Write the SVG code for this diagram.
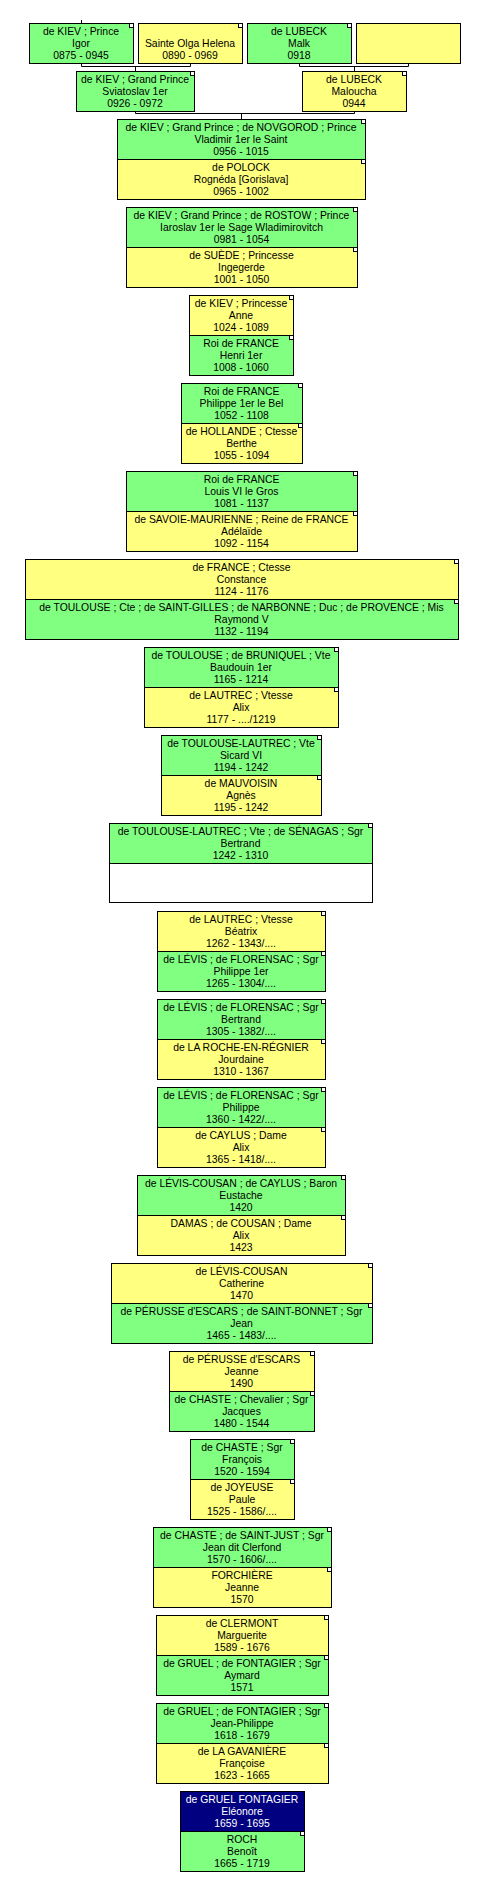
<svg xmlns="http://www.w3.org/2000/svg" width="493" height="1892" viewBox="0 0 493 1892">
<style>
.g{fill:#80ff80;stroke:#000;stroke-width:1}
.y{fill:#ffff80;stroke:#000;stroke-width:1}
.w{fill:#ffffff;stroke:#000;stroke-width:1}
.n{fill:#000080;stroke:#000;stroke-width:1}
.c{fill:#ffffff;stroke:#000;stroke-width:1}
text{font-family:"Liberation Sans",Arial,sans-serif;font-size:10.4px;text-anchor:middle;fill:#000}
.wt{fill:#fff}
.ln{fill:none;stroke:#000;stroke-width:1}
</style>
<rect x="0" y="0" width="493" height="1892" fill="#fff"/>
<g id="connectors">
<path class="ln" d="M81.5 20V23"/>
<path class="ln" d="M81.5 63V66.5H190.5V63M135.5 66.5V71"/>
<path class="ln" d="M299.5 63V66.5H408.5V63M354.5 66.5V71"/>
<path class="ln" d="M135.5 111V113.5H354.5V111M241.5 113.5V119"/>
</g>
<g id="n-igor"><rect class="g" x="29.5" y="23.5" width="104" height="40"/><rect class="c" x="129.5" y="23.5" width="4" height="4"/><text><tspan x="81" y="35">de KIEV ; Prince</tspan><tspan x="81" y="47">Igor</tspan><tspan x="81" y="59">0875 - 0945</tspan></text></g>
<g id="n-olga"><rect class="y" x="138.5" y="23.5" width="104" height="40"/><rect class="c" x="238.5" y="23.5" width="4" height="4"/><text><tspan x="190" y="47">Sainte Olga Helena</tspan><tspan x="190" y="59">0890 - 0969</tspan></text></g>
<g id="n-malk"><rect class="g" x="247.5" y="23.5" width="104" height="40"/><rect class="c" x="347.5" y="23.5" width="4" height="4"/><text><tspan x="299" y="35">de LUBECK</tspan><tspan x="299" y="47">Malk</tspan><tspan x="299" y="59">0918</tspan></text></g>
<g id="n-unknown"><rect class="y" x="356.5" y="23.5" width="104" height="40"/></g>
<g id="n-sviatoslav"><rect class="g" x="76.5" y="71.5" width="118" height="40"/><rect class="c" x="190.5" y="71.5" width="4" height="4"/><text><tspan x="135" y="83">de KIEV ; Grand Prince</tspan><tspan x="135" y="95">Sviatoslav 1er</tspan><tspan x="135" y="107">0926 - 0972</tspan></text></g>
<g id="n-maloucha"><rect class="y" x="302.5" y="71.5" width="104" height="40"/><rect class="c" x="402.5" y="71.5" width="4" height="4"/><text><tspan x="354" y="83">de LUBECK</tspan><tspan x="354" y="95">Maloucha</tspan><tspan x="354" y="107">0944</tspan></text></g>

<g id="n-vladimir"><rect class="g" x="117.5" y="119.5" width="248" height="40"/><rect class="c" x="361.5" y="119.5" width="4" height="4"/><text><tspan x="241" y="131">de KIEV ; Grand Prince ; de NOVGOROD ; Prince</tspan><tspan x="241" y="143">Vladimir 1er le Saint</tspan><tspan x="241" y="155">0956 - 1015</tspan></text></g>
<g id="n-rogneda"><rect class="y" x="117.5" y="159.5" width="248" height="40"/><rect class="c" x="361.5" y="159.5" width="4" height="4"/><text><tspan x="241" y="171">de POLOCK</tspan><tspan x="241" y="183">Rognéda [Gorislava]</tspan><tspan x="241" y="195">0965 - 1002</tspan></text></g>

<g id="n-iaroslav"><rect class="g" x="126.5" y="207.5" width="231" height="40"/><rect class="c" x="353.5" y="207.5" width="4" height="4"/><text><tspan x="241.5" y="219">de KIEV ; Grand Prince ; de ROSTOW ; Prince</tspan><tspan x="241.5" y="231">Iaroslav 1er le Sage Wladimirovitch</tspan><tspan x="241.5" y="243">0981 - 1054</tspan></text></g>
<g id="n-ingegerde"><rect class="y" x="126.5" y="247.5" width="231" height="40"/><rect class="c" x="353.5" y="247.5" width="4" height="4"/><text><tspan x="241.5" y="259">de SUÈDE ; Princesse</tspan><tspan x="241.5" y="271">Ingegerde</tspan><tspan x="241.5" y="283">1001 - 1050</tspan></text></g>

<g id="n-anne"><rect class="y" x="189.5" y="295.5" width="104" height="40"/><rect class="c" x="289.5" y="295.5" width="4" height="4"/><text><tspan x="241" y="307">de KIEV ; Princesse</tspan><tspan x="241" y="319">Anne</tspan><tspan x="241" y="331">1024 - 1089</tspan></text></g>
<g id="n-henri"><rect class="g" x="189.5" y="335.5" width="104" height="40"/><rect class="c" x="289.5" y="335.5" width="4" height="4"/><text><tspan x="241" y="347">Roi de FRANCE</tspan><tspan x="241" y="359">Henri 1er</tspan><tspan x="241" y="371">1008 - 1060</tspan></text></g>

<g id="n-philippe1"><rect class="g" x="181.5" y="383.5" width="121" height="40"/><rect class="c" x="298.5" y="383.5" width="4" height="4"/><text><tspan x="241.5" y="395">Roi de FRANCE</tspan><tspan x="241.5" y="407">Philippe 1er le Bel</tspan><tspan x="241.5" y="419">1052 - 1108</tspan></text></g>
<g id="n-berthe"><rect class="y" x="181.5" y="423.5" width="121" height="40"/><rect class="c" x="298.5" y="423.5" width="4" height="4"/><text><tspan x="241.5" y="435">de HOLLANDE ; Ctesse</tspan><tspan x="241.5" y="447">Berthe</tspan><tspan x="241.5" y="459">1055 - 1094</tspan></text></g>

<g id="n-louis6"><rect class="g" x="126.5" y="471.5" width="231" height="40"/><rect class="c" x="353.5" y="471.5" width="4" height="4"/><text><tspan x="241.5" y="483">Roi de FRANCE</tspan><tspan x="241.5" y="495">Louis VI le Gros</tspan><tspan x="241.5" y="507">1081 - 1137</tspan></text></g>
<g id="n-adelaide"><rect class="y" x="126.5" y="511.5" width="231" height="40"/><rect class="c" x="353.5" y="511.5" width="4" height="4"/><text><tspan x="241.5" y="523">de SAVOIE-MAURIENNE ; Reine de FRANCE</tspan><tspan x="241.5" y="535">Adélaïde</tspan><tspan x="241.5" y="547">1092 - 1154</tspan></text></g>

<g id="n-constance"><rect class="y" x="25.5" y="559.5" width="433" height="40"/><rect class="c" x="454.5" y="559.5" width="4" height="4"/><text><tspan x="241.5" y="571">de FRANCE ; Ctesse</tspan><tspan x="241.5" y="583">Constance</tspan><tspan x="241.5" y="595">1124 - 1176</tspan></text></g>
<g id="n-raymond5"><rect class="g" x="25.5" y="599.5" width="433" height="40"/><rect class="c" x="454.5" y="599.5" width="4" height="4"/><text><tspan x="241.5" y="611">de TOULOUSE ; Cte ; de SAINT-GILLES ; de NARBONNE ; Duc ; de PROVENCE ; Mis</tspan><tspan x="241.5" y="623">Raymond V</tspan><tspan x="241.5" y="635">1132 - 1194</tspan></text></g>

<g id="n-baudouin"><rect class="g" x="144.5" y="647.5" width="194" height="40"/><rect class="c" x="334.5" y="647.5" width="4" height="4"/><text><tspan x="241" y="659">de TOULOUSE ; de BRUNIQUEL ; Vte</tspan><tspan x="241" y="671">Baudouin 1er</tspan><tspan x="241" y="683">1165 - 1214</tspan></text></g>
<g id="n-alix1"><rect class="y" x="144.5" y="687.5" width="194" height="40"/><rect class="c" x="334.5" y="687.5" width="4" height="4"/><text><tspan x="241" y="699">de LAUTREC ; Vtesse</tspan><tspan x="241" y="711">Alix</tspan><tspan x="241" y="723">1177 - ..../1219</tspan></text></g>

<g id="n-sicard6"><rect class="g" x="161.5" y="735.5" width="160" height="40"/><rect class="c" x="317.5" y="735.5" width="4" height="4"/><text><tspan x="241" y="747">de TOULOUSE-LAUTREC ; Vte</tspan><tspan x="241" y="759">Sicard VI</tspan><tspan x="241" y="771">1194 - 1242</tspan></text></g>
<g id="n-agnes"><rect class="y" x="161.5" y="775.5" width="160" height="40"/><rect class="c" x="317.5" y="775.5" width="4" height="4"/><text><tspan x="241" y="787">de MAUVOISIN</tspan><tspan x="241" y="799">Agnès</tspan><tspan x="241" y="811">1195 - 1242</tspan></text></g>

<g id="n-bertrand1"><rect class="g" x="109.5" y="823.5" width="263" height="40"/><rect class="c" x="368.5" y="823.5" width="4" height="4"/><text><tspan x="240.5" y="835">de TOULOUSE-LAUTREC ; Vte ; de SÉNAGAS ; Sgr</tspan><tspan x="240.5" y="847">Bertrand</tspan><tspan x="240.5" y="859">1242 - 1310</tspan></text></g>
<g id="n-blank"><rect class="w" x="109.5" y="863.5" width="263" height="39"/></g>

<g id="n-beatrix"><rect class="y" x="157.5" y="911.5" width="168" height="40"/><rect class="c" x="321.5" y="911.5" width="4" height="4"/><text><tspan x="241" y="923">de LAUTREC ; Vtesse</tspan><tspan x="241" y="935">Béatrix</tspan><tspan x="241" y="947">1262 - 1343/....</tspan></text></g>
<g id="n-philippe-levis1"><rect class="g" x="157.5" y="951.5" width="168" height="40"/><rect class="c" x="321.5" y="951.5" width="4" height="4"/><text><tspan x="241" y="963">de LÉVIS ; de FLORENSAC ; Sgr</tspan><tspan x="241" y="975">Philippe 1er</tspan><tspan x="241" y="987">1265 - 1304/....</tspan></text></g>

<g id="n-bertrand-levis"><rect class="g" x="157.5" y="999.5" width="168" height="40"/><rect class="c" x="321.5" y="999.5" width="4" height="4"/><text><tspan x="241" y="1011">de LÉVIS ; de FLORENSAC ; Sgr</tspan><tspan x="241" y="1023">Bertrand</tspan><tspan x="241" y="1035">1305 - 1382/....</tspan></text></g>
<g id="n-jourdaine"><rect class="y" x="157.5" y="1039.5" width="168" height="40"/><rect class="c" x="321.5" y="1039.5" width="4" height="4"/><text><tspan x="241" y="1051">de LA ROCHE-EN-RÉGNIER</tspan><tspan x="241" y="1063">Jourdaine</tspan><tspan x="241" y="1075">1310 - 1367</tspan></text></g>

<g id="n-philippe-levis2"><rect class="g" x="157.5" y="1087.5" width="168" height="40"/><rect class="c" x="321.5" y="1087.5" width="4" height="4"/><text><tspan x="241" y="1099">de LÉVIS ; de FLORENSAC ; Sgr</tspan><tspan x="241" y="1111">Philippe</tspan><tspan x="241" y="1123">1360 - 1422/....</tspan></text></g>
<g id="n-alix2"><rect class="y" x="157.5" y="1127.5" width="168" height="40"/><rect class="c" x="321.5" y="1127.5" width="4" height="4"/><text><tspan x="241" y="1139">de CAYLUS ; Dame</tspan><tspan x="241" y="1151">Alix</tspan><tspan x="241" y="1163">1365 - 1418/....</tspan></text></g>

<g id="n-eustache"><rect class="g" x="137.5" y="1175.5" width="208" height="40"/><rect class="c" x="341.5" y="1175.5" width="4" height="4"/><text><tspan x="241" y="1187">de LÉVIS-COUSAN ; de CAYLUS ; Baron</tspan><tspan x="241" y="1199">Eustache</tspan><tspan x="241" y="1211">1420</tspan></text></g>
<g id="n-alix3"><rect class="y" x="137.5" y="1215.5" width="208" height="40"/><rect class="c" x="341.5" y="1215.5" width="4" height="4"/><text><tspan x="241" y="1227">DAMAS ; de COUSAN ; Dame</tspan><tspan x="241" y="1239">Alix</tspan><tspan x="241" y="1251">1423</tspan></text></g>

<g id="n-catherine"><rect class="y" x="111.5" y="1263.5" width="261" height="40"/><rect class="c" x="368.5" y="1263.5" width="4" height="4"/><text><tspan x="241.5" y="1275">de LÉVIS-COUSAN</tspan><tspan x="241.5" y="1287">Catherine</tspan><tspan x="241.5" y="1299">1470</tspan></text></g>
<g id="n-jean-perusse"><rect class="g" x="111.5" y="1303.5" width="261" height="40"/><rect class="c" x="368.5" y="1303.5" width="4" height="4"/><text><tspan x="241.5" y="1315">de PÉRUSSE d'ESCARS ; de SAINT-BONNET ; Sgr</tspan><tspan x="241.5" y="1327">Jean</tspan><tspan x="241.5" y="1339">1465 - 1483/....</tspan></text></g>

<g id="n-jeanne-perusse"><rect class="y" x="169.5" y="1351.5" width="145" height="40"/><rect class="c" x="310.5" y="1351.5" width="4" height="4"/><text><tspan x="241.5" y="1363">de PÉRUSSE d'ESCARS</tspan><tspan x="241.5" y="1375">Jeanne</tspan><tspan x="241.5" y="1387">1490</tspan></text></g>
<g id="n-jacques"><rect class="g" x="169.5" y="1391.5" width="145" height="40"/><rect class="c" x="310.5" y="1391.5" width="4" height="4"/><text><tspan x="241.5" y="1403">de CHASTE ; Chevalier ; Sgr</tspan><tspan x="241.5" y="1415">Jacques</tspan><tspan x="241.5" y="1427">1480 - 1544</tspan></text></g>

<g id="n-francois"><rect class="g" x="190.5" y="1439.5" width="104" height="40"/><rect class="c" x="290.5" y="1439.5" width="4" height="4"/><text><tspan x="242" y="1451">de CHASTE ; Sgr</tspan><tspan x="242" y="1463">François</tspan><tspan x="242" y="1475">1520 - 1594</tspan></text></g>
<g id="n-paule"><rect class="y" x="190.5" y="1479.5" width="104" height="40"/><rect class="c" x="290.5" y="1479.5" width="4" height="4"/><text><tspan x="242" y="1491">de JOYEUSE</tspan><tspan x="242" y="1503">Paule</tspan><tspan x="242" y="1515">1525 - 1586/....</tspan></text></g>

<g id="n-jean-clerfond"><rect class="g" x="153.5" y="1527.5" width="178" height="40"/><rect class="c" x="327.5" y="1527.5" width="4" height="4"/><text><tspan x="242" y="1539">de CHASTE ; de SAINT-JUST ; Sgr</tspan><tspan x="242" y="1551">Jean dit Clerfond</tspan><tspan x="242" y="1563">1570 - 1606/....</tspan></text></g>
<g id="n-jeanne-forchiere"><rect class="y" x="153.5" y="1567.5" width="178" height="40"/><rect class="c" x="327.5" y="1567.5" width="4" height="4"/><text><tspan x="242" y="1579">FORCHIÈRE</tspan><tspan x="242" y="1591">Jeanne</tspan><tspan x="242" y="1603">1570</tspan></text></g>

<g id="n-marguerite"><rect class="y" x="156.5" y="1615.5" width="172" height="40"/><rect class="c" x="324.5" y="1615.5" width="4" height="4"/><text><tspan x="242" y="1627">de CLERMONT</tspan><tspan x="242" y="1639">Marguerite</tspan><tspan x="242" y="1651">1589 - 1676</tspan></text></g>
<g id="n-aymard"><rect class="g" x="156.5" y="1655.5" width="172" height="40"/><rect class="c" x="324.5" y="1655.5" width="4" height="4"/><text><tspan x="242" y="1667">de GRUEL ; de FONTAGIER ; Sgr</tspan><tspan x="242" y="1679">Aymard</tspan><tspan x="242" y="1691">1571</tspan></text></g>

<g id="n-jean-philippe"><rect class="g" x="156.5" y="1703.5" width="172" height="40"/><rect class="c" x="324.5" y="1703.5" width="4" height="4"/><text><tspan x="242" y="1715">de GRUEL ; de FONTAGIER ; Sgr</tspan><tspan x="242" y="1727">Jean-Philippe</tspan><tspan x="242" y="1739">1618 - 1679</tspan></text></g>
<g id="n-francoise"><rect class="y" x="156.5" y="1743.5" width="172" height="40"/><rect class="c" x="324.5" y="1743.5" width="4" height="4"/><text><tspan x="242" y="1755">de LA GAVANIÈRE</tspan><tspan x="242" y="1767">Françoise</tspan><tspan x="242" y="1779">1623 - 1665</tspan></text></g>

<g id="n-eleonore"><rect class="n" x="180.5" y="1791.5" width="124" height="40"/><text class="wt"><tspan x="242" y="1803">de GRUEL FONTAGIER</tspan><tspan x="242" y="1815">Eléonore</tspan><tspan x="242" y="1827">1659 - 1695</tspan></text></g>
<g id="n-benoit"><rect class="g" x="180.5" y="1831.5" width="124" height="40"/><rect class="c" x="300.5" y="1831.5" width="4" height="4"/><text><tspan x="242" y="1843">ROCH</tspan><tspan x="242" y="1855">Benoît</tspan><tspan x="242" y="1867">1665 - 1719</tspan></text></g>
</svg>
